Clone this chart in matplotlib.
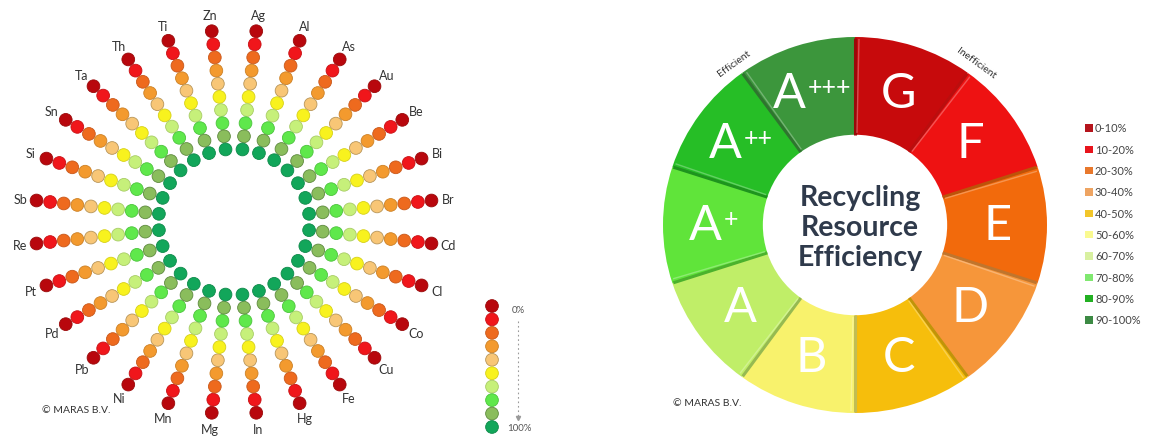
import matplotlib
matplotlib.use("Agg")
import matplotlib.pyplot as plt
import matplotlib.colors as mcolors
import numpy as np

plt.rcParams['font.family'] = ['Lato', 'DejaVu Sans']

# ---- data -------------------------------------------------------------
elements = ["Ag", "Al", "As", "Au", "Be", "Bi", "Br", "Cd", "Cl", "Co",
            "Cu", "Fe", "Hg", "In", "Mg", "Mn", "Ni", "Pb", "Pd", "Pt",
            "Re", "Sb", "Si", "Sn", "Ta", "Th", "Ti", "Zn"]

# recycling scale, outermost (0%) to innermost (100%)
dot_colors = ["#B8070D", "#F0161B", "#EE6A1E", "#F39A2E", "#F8C676",
              "#F8F21E", "#C6F07A", "#5FE84B", "#8ABD5C", "#12A65A"]
dot_edges = ["#9A0A0A", "#C81014", "#C8581A", "#CC8025", "#B89558",
             "#D6D018", "#A8CC66", "#4CC43C", "#5E8A3E", "#0E8A4A"]
scale_labels = ["0%", "100%"]

grades = ["G", "F", "E", "D", "C", "B", "A", "A", "A", "A"]
grade_sup = ["", "", "", "", "", "", "", "+", "++", "+++"]
grade_share = [1, 1, 1, 1, 1, 1, 1, 1, 1, 1]
grade_colors = ["#C70A0C", "#EE1212", "#F26A0C", "#F6963A", "#F6BE0C",
                "#F8F26C", "#C0EE68", "#60E43A", "#26BE26", "#3C963C"]

legend_ranges = ["0-10%", "10-20%", "20-30%", "30-40%", "40-50%",
                 "50-60%", "60-70%", "70-80%", "80-90%", "90-100%"]
legend_colors = ["#B5141C", "#E8141C", "#E8782C", "#EEA462", "#F2C62A",
                 "#FAFA90", "#D8F0A0", "#80E870", "#22B022", "#3C8A44"]

# ---- figure / pixel-space axes ----------------------------------------
W, H = 1150, 439
fig = plt.figure(figsize=(W / 100, H / 100), dpi=100)
fig.patch.set_facecolor("white")

# donut axes sits underneath the pixel-space overlay
pcx, pcy = 855, 226
prx, pry = 192, 188
ax2 = fig.add_axes([(pcx - prx) / W, 1 - (pcy + pry) / H,
                    2 * prx / W, 2 * pry / H])
ax2.set_zorder(0)

ax = fig.add_axes([0, 0, 1, 1])
ax.set_zorder(1)
ax.set_xlim(0, W)
ax.set_ylim(H, 0)
ax.axis("off")
ax.patch.set_visible(False)

text_col = "#333333"

# ---- radial dot chart ---------------------------------------------------
cx, cy = 234, 223
sx = 1.035
r_out, r_in, r_lab = 192, 73, 208
n_el = len(elements)
radii = np.linspace(r_out, r_in, len(dot_colors))
for i, el in enumerate(elements):
    a = np.deg2rad((i + 0.5) * 360 / n_el)
    xs = cx + sx * radii * np.sin(a)
    ys = cy - radii * np.cos(a)
    ax.scatter(xs, ys, s=84, c=dot_colors, edgecolors=dot_edges,
               linewidths=0.6, zorder=3)
    ax.text(cx + sx * r_lab * np.sin(a), cy - r_lab * np.cos(a), el,
            ha="center", va="center", fontsize=9, color=text_col)

ax.text(42, 411, "© MARAS B.V.", ha="left", va="center", fontsize=7.5,
        color=text_col)

# scale key for the dots
ky = np.linspace(307, 428, len(dot_colors))
ax.scatter(np.full(len(ky), 492), ky, s=84, c=dot_colors,
           edgecolors=dot_edges, linewidths=0.6, zorder=3)
ax.text(512, ky[0] + 4, scale_labels[0], ha="left", va="center",
        fontsize=7, color="#555555")
ax.text(507, ky[-1] + 1, scale_labels[1], ha="left", va="center",
        fontsize=7, color="#555555")
ax.plot([518, 518], [322, 417], color="#9A9A9A", lw=0.8,
        linestyle=(0, (1.5, 2.5)))
ax.plot([518], [419], marker="v", ms=3, color="#9A9A9A")

# ---- efficiency donut -------------------------------------------------
wedges, _ = ax2.pie(grade_share, colors=grade_colors, startangle=90,
                    counterclock=False, radius=1,
                    wedgeprops=dict(width=0.52, linewidth=0))
ax2.set_aspect("auto")
ax2.set_xlim(-1, 1)
ax2.set_ylim(-1, 1)
ax2.axis("off")

# bevelled ridges between segments
for w in wedges:
    t = np.deg2rad(w.theta2)
    dark = np.array(mcolors.to_rgb(w.get_facecolor())) * 0.78
    ax2.plot([0.48 * np.cos(t), 0.995 * np.cos(t)],
             [0.48 * np.sin(t), 0.995 * np.sin(t)],
             color=dark, lw=2.2, solid_capstyle="butt")
    light = 1 - (1 - np.array(mcolors.to_rgb(w.get_facecolor()))) * 0.6
    t2 = t - np.deg2rad(1.2)
    ax2.plot([0.49 * np.cos(t2), 0.99 * np.cos(t2)],
             [0.49 * np.sin(t2), 0.99 * np.sin(t2)],
             color=light, lw=1.0, solid_capstyle="butt", alpha=0.7)


def to_px(r, theta_deg):
    t = np.deg2rad(theta_deg)
    return pcx + prx * r * np.cos(t), pcy - pry * r * np.sin(t)


for w, g, sup in zip(wedges, grades, grade_sup):
    mid = 0.5 * (w.theta1 + w.theta2)
    x, y = to_px(0.74, mid)
    if sup:
        a_w = 34
        total = a_w + 2 + 14 * len(sup)
        anchor = x - total / 2 + a_w
        ax.text(anchor, y, g, ha="right", va="center", fontsize=35,
                color="white")
        ax.text(anchor + 2, y - 6, sup, ha="left", va="center",
                fontsize=18, color="white")
    else:
        ax.text(x, y, g, ha="center", va="center", fontsize=35,
                color="white")

ax.text(860, 228, "Recycling\nResource\nEfficiency", ha="center",
        va="center", fontsize=20.5, fontweight="bold", color="#2F3A4B",
        linespacing=1.2)

# scale direction notes along the rim
b_eff = wedges[-1].theta2
b_ineff = wedges[0].theta1
x, y = to_px(1.07, b_eff)
ax.text(x, y, "Efficient", ha="center", va="center", fontsize=7.5,
        rotation=b_eff - 90 + 360, color=text_col)
x, y = to_px(1.07, b_ineff)
ax.text(x, y, "Inefficient", ha="center", va="center", fontsize=7.5,
        rotation=b_ineff - 90, color=text_col)

ax.text(673, 404, "© MARAS B.V.", ha="left", va="center", fontsize=7.5,
        color=text_col)

# ---- grade legend -------------------------------------------------------
ly = np.linspace(129, 321, len(legend_ranges))
ax.scatter(np.full(len(ly), 1089), ly, marker="s", s=30, c=legend_colors,
           linewidths=0, zorder=3)
for yy, lab in zip(ly, legend_ranges):
    ax.text(1095, yy, lab, ha="left", va="center", fontsize=8,
            color="#444444")

fig.savefig("out.png", dpi=100, facecolor="white")
